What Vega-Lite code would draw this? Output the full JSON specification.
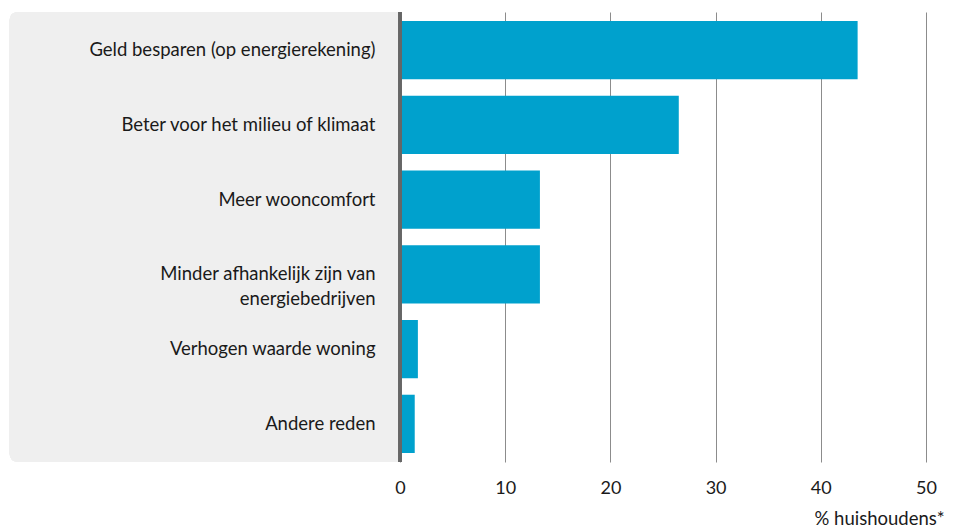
{
  "$schema": "https://vega.github.io/schema/vega-lite/v6.json",
  "width": 526,
  "height": 450,
  "padding": {"left": 9, "top": 10, "right": 5, "bottom": 5},
  "background": "white",
  "config": {
    "view": {"stroke": null},
    "font": "Lato",
    "axis": {"labelFont": "Lato", "titleFont": "Lato"}
  },
  "data": {
    "values": [
      {"reden": "Geld besparen (op energierekening)", "pct": 43.5},
      {"reden": "Beter voor het milieu of klimaat", "pct": 26.5},
      {"reden": "Meer wooncomfort", "pct": 13.3},
      {"reden": "Minder afhankelijk zijn van|energiebedrijven", "pct": 13.3},
      {"reden": "Verhogen waarde woning", "pct": 1.7},
      {"reden": "Andere reden", "pct": 1.4}
    ]
  },
  "layer": [
    {
      "mark": {"type": "rect", "color": "#efefef", "clip": false, "cornerRadiusTopLeft": 8, "cornerRadiusBottomLeft": 8},
      "encoding": {
        "x": {"datum": -37.1, "type": "quantitative"},
        "x2": {"datum": 0}
      }
    },
    {
      "mark": {"type": "bar", "color": "#00A1CD"},
      "encoding": {
        "y": {
          "field": "reden", "type": "nominal", "sort": null,
          "scale": {"paddingInner": 0.22, "paddingOuter": 0.12},
          "axis": {
            "title": null, "domain": false, "ticks": false,
            "labelPadding": 25, "labelFontSize": 18.5, "labelColor": "#1a1a1a",
            "labelLimit": 400, "zindex": 1,
            "labelExpr": "split(datum.label, '|')", "labelLineHeight": 25
          }
        },
        "x": {
          "field": "pct", "type": "quantitative",
          "scale": {"domain": [0, 50], "nice": false},
          "axis": {
            "values": [0, 10, 20, 30, 40, 50],
            "title": "% huishoudens*", "titleFontSize": 18.5, "titleFontWeight": "normal",
            "titleColor": "#1a1a1a", "titleAnchor": "end", "titleAlign": "right",
            "titleX": 544, "titleY": 47,
            "domain": false, "ticks": false, "grid": true, "gridColor": "#8c8c8c", "gridWidth": 1,
            "labelFontSize": 18, "labelColor": "#1a1a1a", "labelPadding": 17, "labelFlush": false
          }
        }
      }
    },
    {
      "mark": {"type": "rule", "color": "#666666", "strokeWidth": 3},
      "encoding": {"x": {"datum": 0, "type": "quantitative"}}
    }
  ]
}
